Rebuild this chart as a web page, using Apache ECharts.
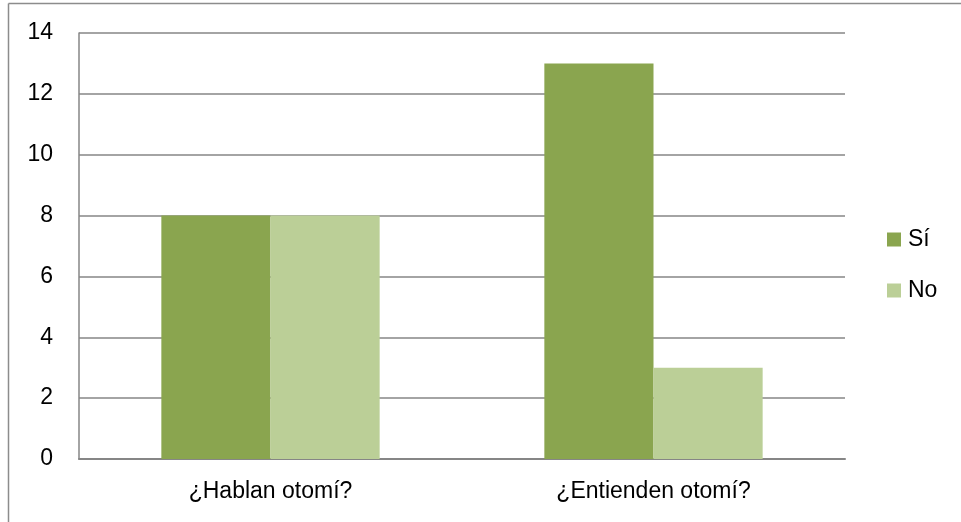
<!DOCTYPE html>
<html><head><meta charset="utf-8">
<script src="https://cdn.jsdelivr.net/npm/echarts@6/dist/echarts.min.js"></script>
<style>html,body{margin:0;padding:0;background:#fff}#c{width:961px;height:522px}</style>
</head><body><div id="c"></div>
<script>
const categories = ['¿Hablan otomí?', '¿Entienden otomí?'];
const siValues = [8, 13];
const noValues = [8, 3];
const seriesNames = ['Sí', 'No'];
const yTicks = {min: 0, max: 14, interval: 2};

const FONT = 'Liberation Sans';
const chart = echarts.init(document.getElementById('c'), null, {renderer: 'canvas'});
chart.setOption({
  animation: false,
  backgroundColor: '#fff',
  textStyle: {fontFamily: FONT},
  graphic: [
    {type: 'line', shape: {x1: 8.5, y1: 3.5, x2: 961, y2: 3.5}, style: {stroke: '#8c8c8c', lineWidth: 1.5}},
    {type: 'line', shape: {x1: 8.5, y1: 3.5, x2: 8.5, y2: 522}, style: {stroke: '#8c8c8c', lineWidth: 1.5}}
  ],
  grid: {left: 79, right: 116, top: 33, bottom: 63, containLabel: false},
  legend: {
    orient: 'vertical', left: 882, top: 223, itemWidth: 14, itemHeight: 14, itemGap: 28,
    icon: 'rect',
    textStyle: {fontFamily: FONT, fontSize: 23, lineHeight: 23, color: '#000', padding: [0, 0, 0, 2]},
    data: seriesNames
  },
  xAxis: {
    type: 'category', data: categories,
    axisLine: {lineStyle: {color: '#868686', width: 2}},
    axisTick: {show: false},
    axisLabel: {fontFamily: FONT, fontSize: 23, color: '#000', margin: 21}
  },
  yAxis: {
    type: 'value', min: yTicks.min, max: yTicks.max, interval: yTicks.interval,
    axisLine: {show: true, lineStyle: {color: '#868686', width: 1.5}},
    axisTick: {show: false},
    splitLine: {lineStyle: {color: '#868686', width: 1.5}},
    axisLabel: {fontFamily: FONT, fontSize: 23, color: '#000', margin: 26}
  },
  series: [
    {name: seriesNames[0], type: 'bar', data: siValues, barGap: '0%', barCategoryGap: '43%',
     itemStyle: {color: '#8aa54f'}},
    {name: seriesNames[1], type: 'bar', data: noValues,
     itemStyle: {color: '#bbcf97'}}
  ]
});
</script></body></html>
